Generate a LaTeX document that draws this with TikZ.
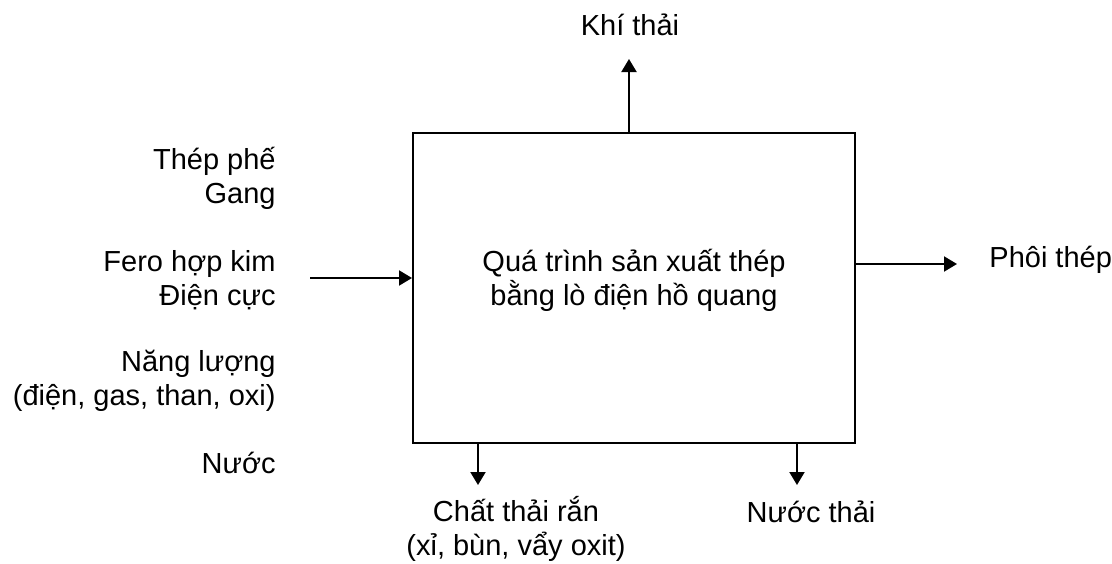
\documentclass[tikz,border=0pt]{standalone}
\usepackage{fontspec}
\setmainfont{Liberation Sans}
\usetikzlibrary{arrows.meta}
\tikzset{
  lbl/.style={inner sep=0pt, font=\fontsize{14.5pt}{16.6pt}\selectfont},
  procbox/.style={draw, line width=1pt, inner sep=0pt, minimum width=221pt, minimum height=155pt},
  arr/.style={line width=1pt, -{Triangle[length=6.5pt,width=7.5pt]}}
}
\begin{document}
\begin{tikzpicture}[x=0.5pt, y=-0.5pt]
\useasboundingbox (0,0) rectangle (1112,563);
% process box
\node[procbox] (box) at (634,288) {};
\node[lbl, anchor=base, align=center] (boxtxt) at (634,305) {Quá trình sản xuất thép\\bằng lò điện hồ quang};
% inputs
\node[lbl, anchor=base east, align=right] (in1) at (276,203) {Thép phế\\Gang};
\node[lbl, anchor=base east, align=right] (in2) at (276,305) {Fero hợp kim\\Điện cực};
\node[lbl, anchor=base east, align=right] (in3) at (276,405) {Năng lượng\\(điện, gas, than, oxi)};
\node[lbl, anchor=base east] (in4) at (276,473) {Nước};
\coordinate (lin) at (310,278);
\draw[arr] (lin) -- (lin -| box.west);
% top output
\coordinate (topt) at (629,59);
\node[lbl, anchor=base] (khi) at (630,35) {Khí thải};
\draw[arr] (topt |- box.north) -- (topt);
% right output
\coordinate (rt) at (957,264);
\node[lbl, anchor=base west] (phoi) at (989,267) {Phôi thép};
\draw[arr] (rt -| box.east) -- (rt);
% bottom outputs
\coordinate (b1) at (478,485);
\coordinate (b2) at (797,485);
\draw[arr] (b1 |- box.south) -- (b1);
\draw[arr] (b2 |- box.south) -- (b2);
\node[lbl, anchor=base, align=center] (ran) at (516,555) {Chất thải rắn\\(xỉ, bùn, vẩy oxit)};
\node[lbl, anchor=base] (nuocthai) at (811,522) {Nước thải};
\end{tikzpicture}
\end{document}
